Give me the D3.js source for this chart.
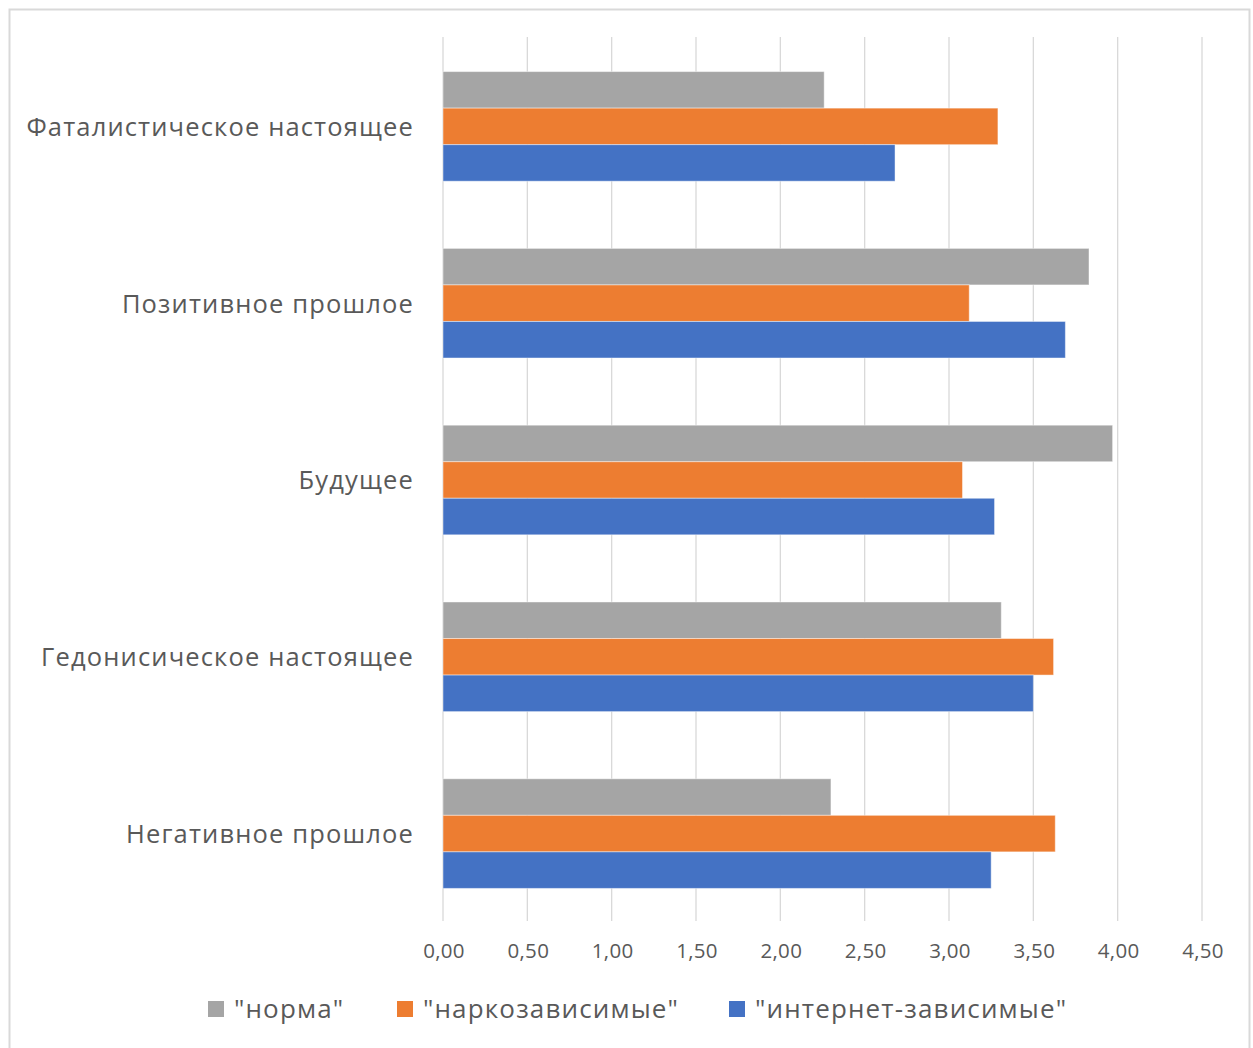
<!DOCTYPE html>
<html><head><meta charset="utf-8">
<script src="https://cdn.jsdelivr.net/npm/d3@7"></script>
<style>html,body{margin:0;padding:0;background:#fff;}svg{display:block;}</style>
</head><body>
<svg id="chart" width="1253" height="1048"></svg>
<script>
const categories = ["Фаталистическое настоящее","Позитивное прошлое","Будущее","Гедонисическое настоящее","Негативное прошлое"];
const seriesNames = ['"норма"','"наркозависимые"','"интернет-зависимые"'];
const norma    = [2.26, 3.83, 3.97, 3.31, 2.30];
const narko    = [3.29, 3.12, 3.08, 3.62, 3.63];
const internet = [2.68, 3.69, 3.27, 3.50, 3.25];
const tickValues = [0,0.5,1,1.5,2,2.5,3,3.5,4,4.5];
const colors = ["#A5A5A5","#ED7D31","#4472C4"];

const series = [norma, narko, internet];
const svg = d3.select("#chart");
const font = "'Open Sans', 'Noto Sans', sans-serif";
const textColor = "#595959";

svg.append("rect").attr("x",9.5).attr("y",9.5).attr("width",1240).attr("height",1060)
  .attr("fill","#fff").attr("stroke","#D9D9D9").attr("stroke-width",2);

const pLeft = 443, pRight = 1202, pTop = 37, pBottom = 921;
const x = d3.scaleLinear().domain([0,4.5]).range([pLeft,pRight]);
const y = d3.scaleBand().domain(categories).range([pTop,pBottom]).paddingInner(0.38).paddingOuter(0.19);
const inner = d3.scaleBand().domain(d3.range(3)).range([0,y.bandwidth()]);

// gridlines
svg.append("g").selectAll("line").data(tickValues).join("line")
  .attr("x1",d=>x(d)).attr("x2",d=>x(d)).attr("y1",pTop).attr("y2",pBottom)
  .attr("stroke","#D9D9D9").attr("stroke-width",1.3);

// bars
const groups = svg.append("g").selectAll("g").data(categories).join("g")
  .attr("transform",c=>`translate(0,${y(c)+1})`);
groups.selectAll("rect").data((c,i)=>series.map((s,k)=>({k,v:s[i]}))).join("rect")
  .attr("x",x(0)).attr("y",d=>inner(d.k)).attr("height",inner.bandwidth())
  .attr("width",d=>x(d.v)-x(0)).attr("fill",d=>colors[d.k])
  .attr("stroke","#fff").attr("stroke-opacity",0.45).attr("stroke-width",1);

// category labels
svg.append("g").selectAll("text").data(categories).join("text")
  .attr("x",414).attr("y",c=>y(c)+y.bandwidth()/2+1.5).attr("dy","0.35em")
  .attr("text-anchor","end").attr("font-family",font).attr("font-size",25.5)
  .attr("letter-spacing",1.15).attr("fill",textColor).text(d=>d);

// tick labels
const fmt = d => d3.format(".2f")(d).replace(".",",");
svg.append("g").selectAll("text").data(tickValues).join("text")
  .attr("x",d=>x(d)+1).attr("y",951).attr("dy","0.35em").attr("text-anchor","middle")
  .attr("font-family",font).attr("font-size",20.5).attr("letter-spacing",0.3)
  .attr("fill",textColor).text(fmt);

// legend
const legendX = [208, 397, 729];
const lg = svg.append("g").selectAll("g").data(seriesNames).join("g")
  .attr("transform",(d,i)=>`translate(${legendX[i]},1001)`);
lg.append("rect").attr("width",16).attr("height",16).attr("fill",(d,i)=>colors[i]);
lg.append("text").attr("x",26).attr("y",8).attr("dy","0.35em")
  .attr("font-family",font).attr("font-size",26).attr("letter-spacing",1.15)
  .attr("fill",textColor).text(d=>d);
</script>
</body></html>
